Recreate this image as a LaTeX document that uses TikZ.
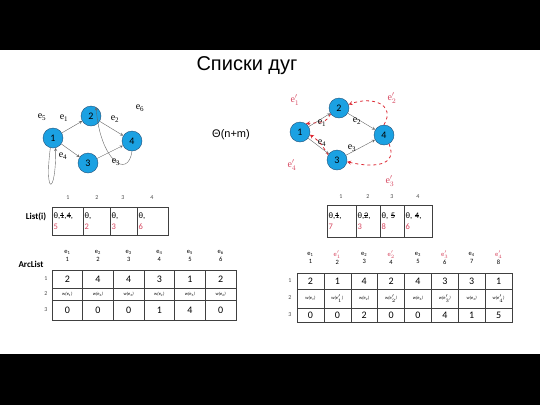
\documentclass[tikz,border=0pt]{standalone}
\usepackage{fontspec}
\setmainfont{Carlito}
\newfontfamily\titlefont{Liberation Sans}
\newfontfamily\labfont{Liberation Serif}
\usepackage{xcolor}
\usepackage{tikz}
\definecolor{vfill}{RGB}{27,161,226}
\definecolor{vline}{RGB}{35,80,120}
\definecolor{ered}{RGB}{214,70,95}
\definecolor{dred}{RGB}{220,40,50}
\newcommand{\strk}[1]{\setbox0\hbox{#1}\rlap{\rule[0.6ex]{\wd0}{0.45pt}}\box0}
\tikzstyle{vertex} = [circle, minimum size=20pt, inner sep=0pt, draw=vline, fill=vfill, font=\fontsize{10}{10}\selectfont]
\tikzstyle{arc} = [->,>=stealth, draw=black!60]
\tikzstyle{back} = [->,>=stealth, dashed, thick, draw=dred]
\tikzstyle{elabel} = [font=\labfont\fontsize{10}{10}\selectfont]
\tikzstyle{rlabel} = [elabel, text=ered]
\tikzstyle{cell} = [rectangle, draw=black!75, inner sep=0pt, font=\fontsize{10}{10}\selectfont]
\tikzstyle{wcell} = [cell, font=\fontsize{4.5}{5}\itshape\selectfont]
\tikzstyle{listcell} = [rectangle, draw=black!75, inner sep=1.5pt, align=left, font=\fontsize{8.5}{11.5}\selectfont]
\tikzstyle{colno} = [font=\fontsize{6}{6}\selectfont, text=black!70]
\tikzstyle{head} = [align=center, inner sep=0pt, font=\fontsize{6.5}{8.5}\selectfont]
\tikzstyle{tabname} = [font=\bfseries\fontsize{9}{9}\selectfont]
\tikzstyle{lcol} = [minimum width=30.7]
\tikzstyle{rcol} = [minimum width=26.9]

\begin{document}
\begin{tikzpicture}[x=1pt,y=-1pt]
	\useasboundingbox (0,0) rectangle (540,405);
	\fill[black] (0,0) rectangle (540,50);
	\fill[black] (0,354) rectangle (540,405);

	\node (title) at (247,66) {\titlefont\fontsize{20}{20}\selectfont Списки дуг};
	\node (theta) at (231,135) {\titlefont\fontsize{11}{11}\selectfont Θ(n+m)};

	% graph on the left
	\node (l1) [vertex] at (53,138) {1};
	\node (l2) [vertex] at (91,116) {2};
	\node (l3) [vertex] at (88,163) {3};
	\node (l4) [vertex] at (132,141) {4};

	\draw [arc] (l1) -- (l2);
	\draw [arc] (l2) -- (l4);
	\draw [arc] (l3) -- (l4);
	\draw [arc] (l1) -- (l3);
	\draw [arc] (l1.255) .. controls (44,196) and (56,196) .. (l1.285);
	\draw [arc] (l4.south) .. controls (128,180) and (100,160) .. (l2.60);

	\node (le5) [elabel] at (42,117) {e\textsubscript{5}};
	\node (le1) [elabel] at (64,118) {e\textsubscript{1}};
	\node (le2) [elabel] at (115,119) {e\textsubscript{2}};
	\node (le6) [elabel] at (140,108) {e\textsubscript{6}};
	\node (le4) [elabel] at (63,156) {e\textsubscript{4}};
	\node (le3) [elabel] at (116,162) {e\textsubscript{3}};

	% graph on the right
	\node (r1) [vertex] at (300,132) {1};
	\node (r2) [vertex] at (339,108) {2};
	\node (r3) [vertex] at (337,160) {3};
	\node (r4) [vertex] at (384,135) {4};

	\draw [arc] (r1) -- (r2);
	\draw [arc] (r2) -- (r4);
	\draw [arc] (r3) -- (r4);
	\draw [arc] (r1) -- (r3);
	\draw [back] (r2.215) .. controls (326,122) .. (r1.55);
	\draw [back] (r4.north) .. controls (396,104) and (372,96) .. (r2.20);
	\draw [back] (r4.300) .. controls (398,166) and (374,168) .. (r3.350);
	\draw [back] (r3.150) .. controls (320,142) .. (r1.-15);

	\node (re1) [elabel] at (322,123) {e\textsubscript{1}};
	\node (re2) [elabel] at (357,121) {e\textsubscript{2}};
	\node (re3) [elabel] at (352,148) {e\textsubscript{3}};
	\node (re4) [elabel] at (322,143) {e\textsubscript{4}};
	\node (rp1) [rlabel] at (295,100) {e$'_1$};
	\node (rp2) [rlabel] at (392,98) {e$'_2$};
	\node (rp3) [rlabel] at (390,181) {e$'_3$};
	\node (rp4) [rlabel] at (292,165) {e$'_4$};

	% List(i) on the left
	\node (lname) [tabname] at (36,217) {List(i)};
	\node (lc1) [colno] at (68,198) {1};
	\node (lc2) [colno] at (97,198) {2};
	\node (lc3) [colno] at (123,198) {3};
	\node (lc4) [colno] at (152,198) {4};
	\node (ll1) [listcell, text width=28, minimum height=28] at (67.5,221) {θ,\strk{1},\strk{4},\\\textcolor{ered}{5}};
	\node (ll2) [listcell, text width=24, minimum height=28] at (96.5,221) {θ,\\\textcolor{ered}{2}};
	\node (ll3) [listcell, text width=24, minimum height=28] at (123.5,221) {θ,\\\textcolor{ered}{3}};
	\node (ll4) [listcell, text width=28, minimum height=28] at (152.5,221) {θ,\\\textcolor{ered}{6}};

	% List(i) on the right
	\node (rc1) [colno] at (341,197) {1};
	\node (rc2) [colno] at (368,197) {2};
	\node (rc3) [colno] at (392,197) {3};
	\node (rc4) [colno] at (418,197) {4};
	\node (rl1) [listcell, text width=26, minimum height=32] at (341.5,221) {θ,\strk{1},\\\textcolor{ered}{7}};
	\node (rl2) [listcell, text width=21, minimum height=32] at (368,221) {θ,\strk{2},\\\textcolor{ered}{3}};
	\node (rl3) [listcell, text width=21, minimum height=32] at (392,221) {θ, \strk{5}\\\textcolor{ered}{8}};
	\node (rl4) [listcell, text width=25, minimum height=32] at (418,221) {θ, \strk{4},\\\textcolor{ered}{6}};

	% ArcList on the left
	\node (aname) [tabname] at (31,264) {ArcList};
	\node (ah1) [head] at (67.3,256) {e\textsubscript{1}\\1};
	\node (ah2) [head] at (98,256) {e\textsubscript{2}\\2};
	\node (ah3) [head] at (128.7,256) {e\textsubscript{3}\\3};
	\node (ah4) [head] at (159.3,256) {e\textsubscript{4}\\4};
	\node (ah5) [head] at (190,256) {e\textsubscript{5}\\5};
	\node (ah6) [head] at (220.7,256) {e\textsubscript{6}\\6};
	\node (ar1) [colno] at (46,279) {1};
	\node (ar2) [colno] at (46,294) {2};
	\node (ar3) [colno] at (46,310) {3};

	\node (a11) [cell, lcol, minimum height=18] at (67.3,279) {2};
	\node (a12) [cell, lcol, minimum height=18] at (98,279) {4};
	\node (a13) [cell, lcol, minimum height=18] at (128.7,279) {4};
	\node (a14) [cell, lcol, minimum height=18] at (159.3,279) {3};
	\node (a15) [cell, lcol, minimum height=18] at (190,279) {1};
	\node (a16) [cell, lcol, minimum height=18] at (220.7,279) {2};
	\node (a21) [wcell, lcol, minimum height=12] at (67.3,294) {w(e\textsubscript{1})};
	\node (a22) [wcell, lcol, minimum height=12] at (98,294) {w(e\textsubscript{2})};
	\node (a23) [wcell, lcol, minimum height=12] at (128.7,294) {w(e\textsubscript{3})};
	\node (a24) [wcell, lcol, minimum height=12] at (159.3,294) {w(e\textsubscript{4})};
	\node (a25) [wcell, lcol, minimum height=12] at (190,294) {w(e\textsubscript{5})};
	\node (a26) [wcell, lcol, minimum height=12] at (220.7,294) {w(e\textsubscript{6})};
	\node (a31) [cell, lcol, minimum height=20] at (67.3,310) {0};
	\node (a32) [cell, lcol, minimum height=20] at (98,310) {0};
	\node (a33) [cell, lcol, minimum height=20] at (128.7,310) {0};
	\node (a34) [cell, lcol, minimum height=20] at (159.3,310) {1};
	\node (a35) [cell, lcol, minimum height=20] at (190,310) {4};
	\node (a36) [cell, lcol, minimum height=20] at (220.7,310) {0};

	% ArcList on the right
	\node (bh1) [head] at (310.4,258) {e\textsubscript{1}\\1};
	\node (bh2) [head] at (337.3,258) {\textcolor{ered}{e$'_1$}\\2};
	\node (bh3) [head] at (364.2,258) {e\textsubscript{2}\\3};
	\node (bh4) [head] at (391.1,258) {\textcolor{ered}{e$'_2$}\\4};
	\node (bh5) [head] at (417.9,258) {e\textsubscript{3}\\5};
	\node (bh6) [head] at (444.8,258) {\textcolor{ered}{e$'_3$}\\6};
	\node (bh7) [head] at (471.7,258) {e\textsubscript{4}\\7};
	\node (bh8) [head] at (498.6,258) {\textcolor{ered}{e$'_4$}\\8};
	\node (br1) [colno] at (290,281) {1};
	\node (br2) [colno] at (290,298) {2};
	\node (br3) [colno] at (290,315) {3};

	\node (b11) [cell, rcol, minimum height=16] at (310.4,281) {2};
	\node (b12) [cell, rcol, minimum height=16] at (337.3,281) {1};
	\node (b13) [cell, rcol, minimum height=16] at (364.2,281) {4};
	\node (b14) [cell, rcol, minimum height=16] at (391.1,281) {2};
	\node (b15) [cell, rcol, minimum height=16] at (417.9,281) {4};
	\node (b16) [cell, rcol, minimum height=16] at (444.8,281) {3};
	\node (b17) [cell, rcol, minimum height=16] at (471.7,281) {3};
	\node (b18) [cell, rcol, minimum height=16] at (498.6,281) {1};
	\node (b21) [wcell, rcol, minimum height=19] at (310.4,298.5) {w(e\textsubscript{1})};
	\node (b22) [wcell, rcol, minimum height=19] at (337.3,298.5) {w(e$'_1$)};
	\node (b23) [wcell, rcol, minimum height=19] at (364.2,298.5) {w(e\textsubscript{2})};
	\node (b24) [wcell, rcol, minimum height=19] at (391.1,298.5) {w(e$'_2$)};
	\node (b25) [wcell, rcol, minimum height=19] at (417.9,298.5) {w(e\textsubscript{3})};
	\node (b26) [wcell, rcol, minimum height=19] at (444.8,298.5) {w(e$'_3$)};
	\node (b27) [wcell, rcol, minimum height=19] at (471.7,298.5) {w(e\textsubscript{4})};
	\node (b28) [wcell, rcol, minimum height=19] at (498.6,298.5) {w(e$'_4$)};
	\node (b31) [cell, rcol, minimum height=14] at (310.4,315) {0};
	\node (b32) [cell, rcol, minimum height=14] at (337.3,315) {0};
	\node (b33) [cell, rcol, minimum height=14] at (364.2,315) {2};
	\node (b34) [cell, rcol, minimum height=14] at (391.1,315) {0};
	\node (b35) [cell, rcol, minimum height=14] at (417.9,315) {0};
	\node (b36) [cell, rcol, minimum height=14] at (444.8,315) {4};
	\node (b37) [cell, rcol, minimum height=14] at (471.7,315) {1};
	\node (b38) [cell, rcol, minimum height=14] at (498.6,315) {5};

\end{tikzpicture}
\end{document}
